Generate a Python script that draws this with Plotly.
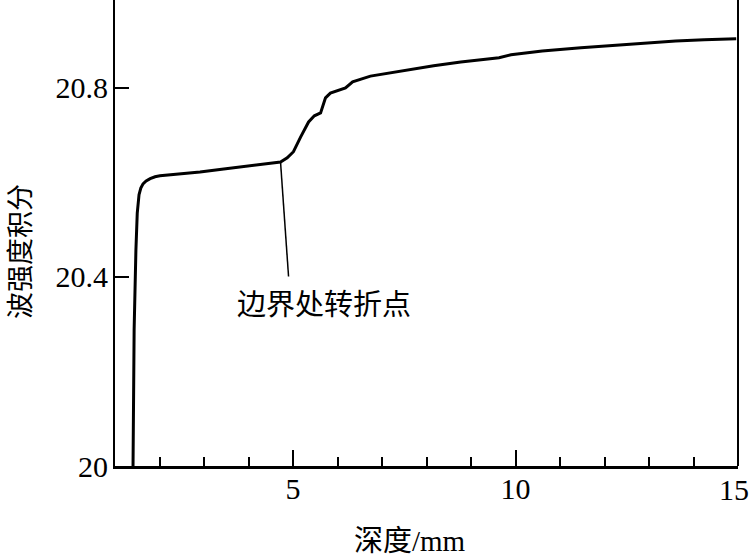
import plotly.graph_objects as go

# depth (mm) and wave-intensity integral
depth = [1.405, 1.43, 1.47, 1.50, 1.54, 1.58, 1.63, 1.70, 1.79, 1.90, 2.01, 2.50, 2.91, 3.40, 3.82, 4.30, 4.72,
         4.87, 5.01, 5.17, 5.35, 5.48, 5.62, 5.73, 5.84, 6.18, 6.34, 6.74, 7.42, 8.16, 8.77, 9.63, 9.90,
         10.6, 11.47, 12.2, 12.98, 13.6, 14.24, 14.96]
integral = [20.0, 20.288, 20.457, 20.535, 20.574, 20.588, 20.597, 20.603, 20.608, 20.612, 20.614, 20.618, 20.622,
            20.628, 20.633, 20.638, 20.643,
            20.652, 20.665, 20.696, 20.728, 20.741, 20.747, 20.779, 20.789, 20.800, 20.813, 20.825, 20.836,
            20.847, 20.855, 20.864, 20.870, 20.878, 20.885, 20.890, 20.895, 20.899, 20.902, 20.904]

x_ticks = [5, 10, 15]
x_tick_labels = ["5", "10", "15"]
y_ticks = [20, 20.4, 20.8]
y_tick_labels = ["20", "20.4", "20.8"]

break_point = (4.72, 20.643)
label_anchor = (4.90, 20.401)
label_text = "边界处转折点"
x_title = "深度/mm"
y_title = "波强度积分"

FONT = "Liberation Serif, Times New Roman, Noto Sans CJK SC, serif"

fig = go.Figure()
fig.add_trace(go.Scatter(x=depth, y=integral, mode="lines",
                         line=dict(color="black", width=3), hoverinfo="skip"))

fig.add_shape(type="line", xref="x", yref="y",
              x0=break_point[0], y0=break_point[1], x1=label_anchor[0], y1=label_anchor[1],
              line=dict(color="black", width=1.5))

# right frame line of the plot area
fig.add_shape(type="line", xref="paper", yref="paper", x0=1, x1=1, y0=0, y1=1,
              line=dict(color="black", width=2))

fig.add_annotation(x=label_anchor[0], y=label_anchor[1], xref="x", yref="y",
                   text=label_text, showarrow=False, xanchor="center", yanchor="top",
                   xshift=35, yshift=-3,
                   font=dict(family="Noto Sans CJK SC", size=29, color="black"))

# last x tick label drawn as text nudged left so it stays inside the page
fig.add_annotation(x=x_ticks[-1], y=-24 / 466, xref="x", yref="paper", text=x_tick_labels[-1],
                   showarrow=False, xanchor="center", yanchor="middle", xshift=-4,
                   font=dict(family=FONT, size=30, color="black"))

fig.add_annotation(x=410, y=541, xref="paper", yref="paper", text=x_title, showarrow=False,
                   font=dict(family=FONT, size=29, color="black"))
fig.add_annotation(x=18, y=252, xref="paper", yref="paper", text=y_title, showarrow=False,
                   textangle=-90, font=dict(family="Noto Sans CJK SC", size=27, color="black"))

fig.update_layout(
    width=750, height=557,
    margin=dict(l=115, r=12, t=0, b=91, autoexpand=False),
    paper_bgcolor="white", plot_bgcolor="white",
    showlegend=False,
    font=dict(family=FONT, size=30, color="black"),
    xaxis=dict(range=[1, 15], tickvals=x_ticks, ticktext=x_tick_labels[:-1] + [""],
               ticks="inside", ticklen=16, tickwidth=1.5,
               tickcolor="black", showline=True, linecolor="black", linewidth=2.5,
               showgrid=False, zeroline=False, ticklabelstandoff=-6, automargin=False,
               ticklabeloverflow="allow",
               minor=dict(ticks="inside", ticklen=9, tickwidth=1.5, tickcolor="black", dtick=1,
                          tick0=0, showgrid=False)),
    yaxis=dict(range=[20, 20.986], tickvals=y_ticks, ticktext=y_tick_labels, ticks="inside",
               ticklen=14, tickwidth=1.5, tickcolor="black", showline=True, linecolor="black",
               linewidth=1.8, showgrid=False, zeroline=False, ticklabelstandoff=-1,
               automargin=False, ticklabeloverflow="allow"),
)

# convert paper-pixel annotations to paper fractions
pw = 750 - 115 - 12
ph = 557 - 0 - 91
for ann in fig.layout.annotations:
    if ann.xref == "paper":
        ann.x = (ann.x - 115) / pw
        ann.y = (557 - 91 - ann.y) / ph
        ann.xanchor = "center"
        ann.yanchor = "middle"

fig.write_html("out.html", config={"displayModeBar": False},
               post_script="document.body.style.margin='0';document.body.style.overflow='hidden';")
